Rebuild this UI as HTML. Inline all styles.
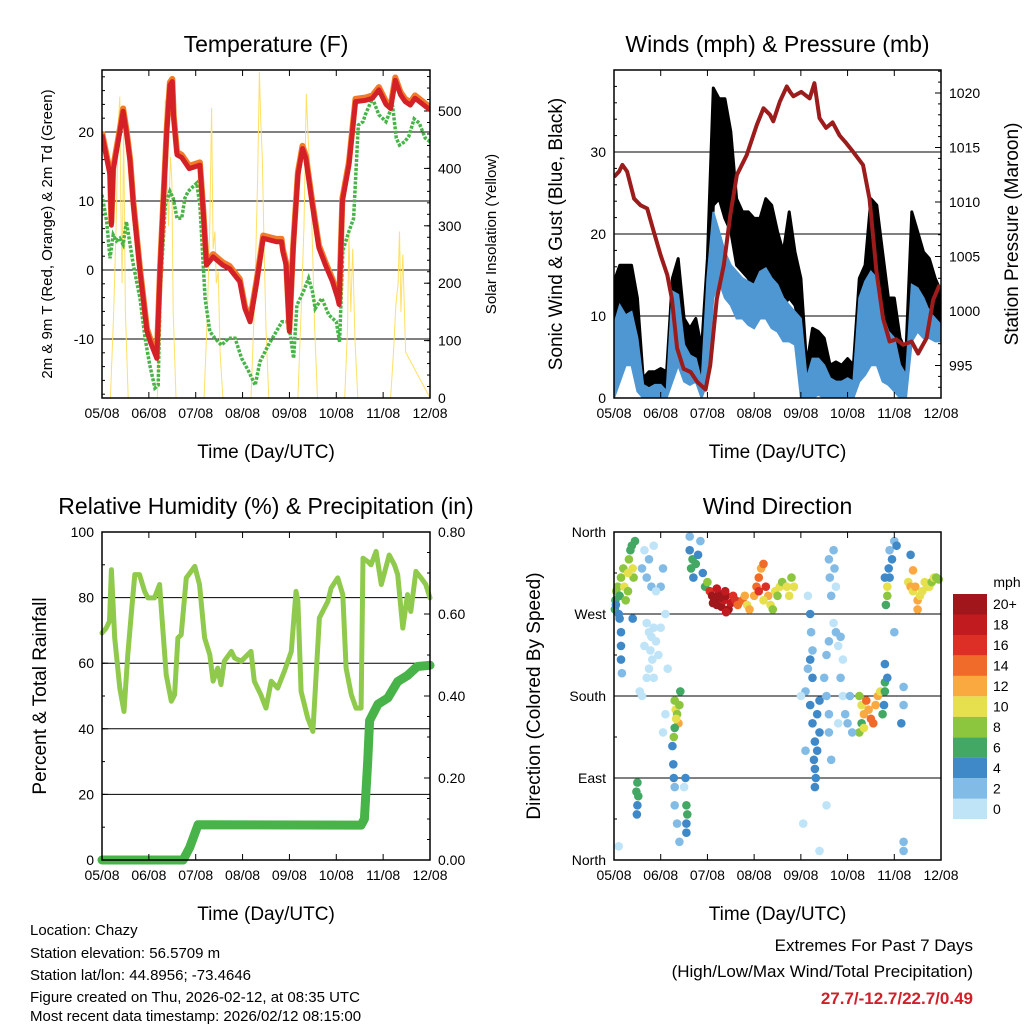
<!DOCTYPE html>
<html><head><meta charset="utf-8"><style>
html,body{margin:0;padding:0;background:#fff}
svg{display:block;font-family:"Liberation Sans",sans-serif}
</style></head><body>
<svg id="s" width="1024" height="1024" viewBox="0 0 1024 1024">
<g id="g1"></g>
<g id="g2"></g>
<g id="g3"></g>
<g id="g4"></g>
<g font-size="15" fill="#000">
<text x="30" y="935">Location: Chazy</text>
<text x="30" y="958">Station elevation: 56.5709 m</text>
<text x="30" y="980">Station lat/lon: 44.8956; -73.4646</text>
<text x="30" y="1002">Figure created on Thu, 2026-02-12, at 08:35 UTC</text>
<text x="30" y="1024" dy="-3">Most recent data timestamp: 2026/02/12 08:15:00</text>
</g>
<g font-size="17" text-anchor="end">
<text x="973" y="951">Extremes For Past 7 Days</text>
<text x="973" y="977">(High/Low/Max Wind/Total Precipitation)</text>
<text x="973" y="1004" fill="#d0202a" font-weight="bold">27.7/-12.7/22.7/0.49</text>
</g>
</svg>
<script>
// ---- Temperature data (day, value) ----
const redDay=[0,0.17,0.2,0.24,0.38,0.45,0.52,0.6,0.67,0.81,0.96,1.03,1.17,1.24,1.38,1.45,1.5,1.53,1.6,1.7,1.86,2.09,2.16,2.23,2.37,2.58,2.72,2.94,3.05,3.16,3.3,3.44,3.72,3.83,3.86,3.93,4.0,4.08,4.18,4.28,4.35,4.49,4.63,4.77,4.92,5.03,5.06,5.13,5.27,5.41,5.63,5.77,5.91,6.06,6.16,6.26,6.37,6.47,6.58,6.68,7.0];
const redVal=[19.6,13.8,6.5,14.5,20,23,20,15.7,9.4,-0.2,-8.9,-10.4,-12.8,0,20,26.8,27.3,22,16.7,16.3,14.7,15.2,8.5,0.7,1.9,0.7,0.2,-1.7,-5.6,-7.5,-1.9,4.6,4.1,4.1,2.6,0.7,-8.9,3.2,13.8,17.6,16.2,9.4,3.2,0.7,-1.7,-4.1,-5,10,15.2,24.4,24.6,24.9,26.1,24,23.4,27.5,25.4,24.4,23.9,24.9,23.2];
const tdDay=[0,0.1,0.17,0.24,0.31,0.38,0.45,0.52,0.67,0.81,0.92,1.02,1.13,1.2,1.24,1.35,1.45,1.52,1.6,1.7,1.77,1.84,2.02,2.09,2.2,2.3,2.41,2.55,2.7,2.84,2.98,3.13,3.27,3.37,3.55,3.84,3.98,4.09,4.16,4.3,4.41,4.49,4.55,4.69,4.84,5.0,5.07,5.14,5.27,5.37,5.47,5.57,5.62,5.77,5.91,6.06,6.2,6.28,6.35,6.46,6.55,6.66,6.77,6.9,7.0];
const tdVal=[10.9,7.0,1.7,5.1,4.2,4.6,3.7,7.0,0.7,-4.1,-9.9,-13.8,-17.1,-16.7,-3.6,9.4,11.4,10.4,7.5,7.5,10.4,11.4,12.6,9.4,-4.1,-8.9,-9.9,-10.9,-9.9,-9.9,-12.8,-14.7,-16.7,-13.3,-10.9,-7.5,-7.5,-12.8,-5.1,-3.1,-1.2,-3.1,-5.6,-4.1,-6.5,-7.5,-10.4,2.8,5.6,7.5,21,21.5,22.5,24.9,22.5,21.5,23.9,19.1,18.1,18.6,19.4,21.9,21.3,19.1,18.6];
const solDay=[0,0.18,0.25,0.3,0.35,0.38,0.4,0.43,0.46,0.5,0.56,1.18,1.25,1.3,1.35,1.38,1.42,1.46,1.49,1.52,1.58,2.18,2.25,2.3,2.34,2.37,2.41,2.44,2.48,2.52,2.58,3.18,3.26,3.32,3.36,3.39,3.42,3.46,3.5,3.56,4.18,4.25,4.31,4.36,4.4,4.44,4.48,4.54,4.6,5.18,5.24,5.27,5.31,5.35,5.4,5.46,6.16,6.22,6.27,6.32,6.35,6.38,6.42,6.48,7.0];
const solVal=[0,0,150,300,480,525,350,200,470,150,0,0,180,350,520,400,300,420,380,150,0,0,150,300,505,260,290,200,220,80,0,0,180,380,568,480,420,260,120,0,0,150,300,530,450,400,300,120,0,0,120,290,150,260,100,0,0,80,160,200,290,150,250,80,0];
// ---- Winds data ----
const windDay=[0,0.125,0.25,0.375,0.5,0.625,0.75,0.875,1,1.125,1.25,1.375,1.5,1.625,1.75,1.875,2,2.125,2.25,2.375,2.5,2.625,2.75,2.875,3,3.125,3.25,3.375,3.5,3.625,3.75,3.875,4,4.125,4.25,4.375,4.5,4.625,4.75,4.875,5,5.125,5.25,5.375,5.5,5.625,5.75,5.875,6,6.125,6.25,6.375,6.5,6.625,6.75,6.875,7];
const gustHi=[14.2,16.2,16.2,16.2,12.2,2.4,3.2,3.2,3.6,3.2,14.6,17,9.7,8.5,9.7,6.1,17,37.8,36.5,36.5,32.5,24.3,22.7,22.7,21.9,21.9,24.3,23.5,20.3,17.8,22.7,17.8,14.6,4,8.5,8.1,7.3,4,4.4,4,4.8,4,14.6,16.2,24.3,23.5,17.8,12.2,12.2,7.3,5.7,22.7,20.3,17.8,17,14.6,13];
const gustLo=[4,5.7,6.1,6.9,4,0.4,0.4,0.4,0.6,0.4,7.3,9.7,4,3.2,4.8,0.8,4,23.5,24.3,21.9,20.3,16.2,15.4,14.6,13,14.2,14.6,13.8,12.2,11.3,12.2,11.3,8.1,0.4,2,2,1.6,0.8,0.8,0.8,0.8,0.8,5.7,7.3,12.2,10.1,6.9,4.8,4,2.4,1.6,12.2,11.3,10.5,11.3,9.7,8.9];
const windHi=[8.9,11.3,10.1,10.5,7.3,1.6,1.2,1.6,1.6,0.8,13,12.6,6.5,5.2,4.8,2,14.6,22.7,20.3,17.8,16.2,15.4,14.6,14.2,13.8,15.4,15.8,14.6,13.8,12.2,11.3,10.5,9.7,2.4,4.8,4.8,4,2.4,2,2,2.4,2,12.2,14.2,15.4,14.6,10.1,8.1,7.3,4,2.8,13.8,13.4,12.2,10.5,9.7,8.9];
const windLo=[0,2,4,4,0.8,0,0,0,0,0,2,4,2,1.6,2,0,2,12.2,14.2,12.2,11.3,9.7,9.7,8.9,8.5,9.7,9.7,8.5,8.1,6.9,6.9,6.5,0,0,0,0.4,0,0,0,0,0,0,2,2.8,4,4,2,1.6,0.8,0,0,6.9,8.1,7.3,7.3,6.9,6.9];
const presDay=[0,0.11,0.18,0.28,0.43,0.57,0.71,0.85,1.0,1.14,1.24,1.35,1.49,1.64,1.78,1.96,2.06,2.2,2.35,2.49,2.63,2.84,3.06,3.2,3.34,3.41,3.55,3.7,3.77,3.84,4.01,4.19,4.29,4.4,4.54,4.68,4.83,4.97,5.12,5.33,5.47,5.62,5.76,5.9,6.04,6.19,6.37,6.51,6.69,6.83,6.97];
const presVal=[1012.3,1012.8,1013.4,1012.8,1010.3,1009.7,1009.4,1007.3,1005.1,1003.3,1001.1,996.6,994.7,994.4,993.5,992.8,995,1001.1,1004.2,1008.8,1012.5,1014.3,1017.1,1018.6,1018,1017.4,1019.2,1020.6,1020.1,1019.7,1020.1,1019.5,1020.9,1017.7,1016.8,1017.3,1016.1,1015.4,1014.6,1013.4,1010.3,1003.6,999.3,997.2,997.4,996.9,997.2,996.1,997.5,1001,1002.4];
// ---- Humidity / precip ----
const rhDay=[0,0.09,0.16,0.2,0.27,0.38,0.47,0.55,0.63,0.7,0.8,0.91,0.98,1.12,1.23,1.27,1.37,1.48,1.55,1.62,1.69,1.8,1.98,2.08,2.19,2.3,2.37,2.47,2.54,2.61,2.76,2.83,2.97,3.18,3.25,3.39,3.5,3.61,3.75,3.89,4.04,4.14,4.18,4.25,4.39,4.5,4.64,4.82,4.89,5.03,5.14,5.21,5.32,5.42,5.53,5.57,5.67,5.74,5.85,5.96,6.13,6.24,6.31,6.42,6.52,6.59,6.7,6.81,6.91,7.0];
const rhVal=[69.2,70.7,72.8,88.5,67.7,52.4,45.3,62.6,75.8,87,87,81.9,79.9,79.9,84,75.8,56.5,48.4,50.4,67.7,68.7,86,89.5,84,67.7,62.6,54.5,58.5,53.5,60.6,63.6,61.6,60.6,63.6,54.5,50.4,46.3,54.5,52.4,57.5,63.6,81.9,78.9,51.4,43.3,39.2,73.8,78.9,82.9,86,80.9,58.5,50.4,46.3,46.3,92,91,90,94.1,84,93,90,87,70.7,80.9,75.8,88,86,84,79.9];
const prDay=[0,1.73,1.87,2.05,5.53,5.6,5.67,5.71,5.89,6.1,6.31,6.52,6.73,7.0];
const prVal=[0,0,0.03,0.086,0.085,0.1,0.24,0.34,0.38,0.395,0.435,0.45,0.472,0.475];
// ---- Wind direction points ----
const dirDay=[0.02,0.03,0.05,0.04,0.08,0.1,0.12,0.15,0.2,0.22,0.25,0.3,0.32,0.35,0.38,0.4,0.42,0.45,0.3,0.12,0.15,0.15,0.15,0.17,0.4,
0.6,0.65,0.7,0.75,0.8,0.85,0.7,0.75,0.8,0.85,0.9,0.78,0.82,0.75,0.7,0.65,0.95,1.0,1.1,1.05,1.0,0.9,0.6,0.85,1.15,1.1,1.05,0.55,
1.3,1.32,1.35,1.38,1.4,1.42,1.3,1.28,1.33,1.25,1.27,1.28,1.3,1.3,1.35,1.4,
0.48,0.5,0.52,0.5,0.49,0.1,1.55,1.57,1.55,1.55,1.53,1.5,
1.62,1.65,1.68,1.7,1.75,1.8,1.85,1.9,1.95,1.62,
2.05,2.1,2.15,2.2,2.25,2.3,2.35,2.4,2.45,2.5,2.55,2.6,2.65,2.2,2.4,2.0,2.12,2.28,2.38,
2.75,2.8,2.85,2.9,3.0,3.05,3.1,3.15,3.2,3.25,3.3,3.35,3.4,3.45,3.5,3.55,3.6,3.7,3.75,3.8,3.85,3.1,3.2,
4.15,4.2,4.22,4.25,4.2,4.15,4.25,4.1,4.2,4.25,4.3,4.28,4.3,4.35,4.32,4.3,4.4,4.35,4.4,4.5,4.55,4.6,4.55,4.6,4.6,4.65,4.6,4.62,4.65,4.7,4.72,4.75,4.7,4.75,4.8,4.85,4.9,4.85,4.9,4.95,4.8,4.1,4.0,4.55,4.05,4.4,
5.25,5.3,5.35,5.4,5.45,5.5,5.55,5.6,5.65,5.7,5.3,5.25,5.35,5.8,5.78,5.75,5.8,5.1,5.0,5.05,
5.82,5.85,5.85,5.9,5.88,5.9,5.95,5.8,6.0,6.05,6.0,5.8,5.85,6.2,6.2,6.15,6.2,6.2,
6.3,6.35,6.4,6.45,6.5,6.55,6.6,6.65,6.7,6.75,6.8,6.85,6.9,6.95,6.4,6.35,6.5];
const dirDeg=[275,285,295,280,300,270,290,310,320,300,285,295,330,340,345,320,310,350,315,265,250,235,220,205,265,
320,340,310,330,300,345,260,250,245,255,240,230,220,210,200,235,225,255,270,320,300,295,180,200,210,160,140,185,
175,165,160,150,170,185,145,135,155,125,105,90,80,60,40,20,
75,85,70,60,50,15,60,50,40,30,90,80,
340,320,330,310,325,335,350,315,300,355,
295,290,285,280,292,278,285,290,275,282,290,285,280,298,272,305,282,288,295,
285,290,280,275,290,300,310,320,325,300,290,280,275,295,290,300,305,300,290,310,300,295,285,
290,270,250,230,220,210,200,185,170,150,130,110,100,120,90,80,140,160,175,200,225,240,180,160,140,110,330,310,290,340,320,300,260,250,235,245,220,200,180,160,150,120,180,60,40,10,
180,170,160,175,165,155,150,170,180,185,150,140,145,185,170,160,195,140,150,180,
280,290,300,310,320,340,330,310,350,345,250,215,200,190,170,150,20,10,
305,300,295,300,285,290,295,305,300,300,305,310,310,308,318,335,275];
const dirSpd=[6,7,8,5,9,4,7,8,9,10,9,8,9,7,6,10,9,6,10,4,4,4,4,2,4,
2,1,2,3,2,1,0,0,1,0,0,0,1,0,0,0,0,0,1,2,2,1,0,0,0,1,0,0,
8,10,9,12,9,6,7,9,10,4,4,4,2,2,2,2,
6,6,6,4,4,0,6,6,4,4,4,0,
4,6,6,4,6,4,2,4,6,2,
16,20,20,20,20,20,18,20,20,18,16,16,14,18,18,8,20,20,19,
14,12,10,12,12,14,14,12,14,16,12,10,8,10,8,10,8,10,10,8,10,16,10,
0,4,2,2,4,2,4,2,4,4,4,4,4,4,4,4,4,4,4,2,2,2,2,2,2,2,2,2,2,2,2,0,0,2,0,2,0,2,0,2,0,2,0,0,0,0,
8,10,12,14,12,14,14,12,12,10,6,8,10,6,4,6,6,2,2,2,
6,8,10,4,4,2,4,4,2,4,2,4,4,2,2,4,2,2,
10,12,10,12,12,10,10,10,10,10,8,10,8,8,12,4,12];
const cbLabels=['0','2','4','6','8','10','12','14','16','18','20+'];
const cbColors=['#bfe4f8','#82bce6','#3f89c8','#44a865','#8cc63f','#e6e04e','#f9a93f','#f06b2a','#dd2f25','#c21b1f','#a0161a'];

const NS='http://www.w3.org/2000/svg';
function mk(parent,tag,attrs,name){const e=document.createElementNS(NS,tag);for(const k in attrs)e.setAttribute(k,attrs[k]);


parent.appendChild(e);return e;}
function txt(parent,x,y,s,size,anchor,name,rot){const t=mk(parent,'text',{x:x,y:y,'font-size':size,'text-anchor':anchor||'middle'},name);
if(rot)t.setAttribute('transform','rotate(-90 '+x+' '+y+')');t.textContent=s;return t;}
function pts(days,vals,fx,fy){return days.map((d,i)=>fx(d).toFixed(1)+','+fy(vals[i]).toFixed(1)).join(' ');}
const xLabels=['05/08','06/08','07/08','08/08','09/08','10/08','11/08','12/08'];

function frame(g,x0,x1,y0,y1,title,xlab){
  mk(g,'rect',{x:x0,y:y0,width:x1-x0,height:y1-y0,fill:'none',stroke:'#000','stroke-width':1.5},'plot-frame');
  txt(g,(x0+x1)/2,y0-18,title,23,'middle','panel-title');
  txt(g,(x0+x1)/2,y1+60,xlab,19,'middle','x-axis-title');
  for(let i=0;i<8;i++){const x=x0+i*(x1-x0)/7;
    mk(g,'line',{x1:x,x2:x,y1:y1,y2:y1-6,stroke:'#000'},'x-tick');
    mk(g,'line',{x1:x,x2:x,y1:y0,y2:y0+6,stroke:'#000'},'x-tick-top');
    txt(g,x,y1+20,xLabels[i],14,'middle','x-tick-label');}
}
function yAxis(g,x0,x1,vals,fy,labels,side,grid,minor){
  vals.forEach((v,i)=>{const y=fy(v);
    if(side==='l'){mk(g,'line',{x1:x0,x2:x0+6,y1:y,y2:y,stroke:'#000'},'y-tick');txt(g,x0-8,y+5,labels[i],14,'end','y-tick-label');}
    else{mk(g,'line',{x1:x1,x2:x1-6,y1:y,y2:y,stroke:'#000'},'y2-tick');txt(g,x1+8,y+5,labels[i],14,'start','y2-tick-label');}
    if(grid)mk(g,'line',{x1:x0,x2:x1,y1:y,y2:y,stroke:'#000','stroke-width':1},'grid-line');
  });
  (minor||[]).forEach(v=>{const y=fy(v);
    if(side==='l')mk(g,'line',{x1:x0,x2:x0+3,y1:y,y2:y,stroke:'#000'},'y-minor-tick');
    else mk(g,'line',{x1:x1,x2:x1-3,y1:y,y2:y,stroke:'#000'},'y2-minor-tick');});
}
function range(a,b,s){const r=[];for(let v=a;v<=b+1e-9;v+=s)r.push(+v.toFixed(3));return r;}

// ===== Panel 1 Temperature =====
(function(){const g=document.getElementById('g1');const X0=102,X1=430,Y0=70,Y1=398;
const fx=d=>X0+d*(X1-X0)/7, fy=t=>270-6.9*t, fs=v=>398-0.574*v;
const cp=mk(g,'clipPath',{id:'c1'},'clip');mk(cp,'rect',{x:X0,y:Y0,width:X1-X0,height:Y1-Y0},'clip-rect');
yAxis(g,X0,X1,[-10,0,10,20],fy,['-10','0','10','20'],'l',true,range(-18,28,2));
yAxis(g,X0,X1,[0,100,200,300,400,500],fs,['0','100','200','300','400','500'],'r',false,range(0,560,20));
const d=mk(g,'g',{'clip-path':'url(#c1)'},'temperature-series');
mk(d,'polyline',{points:pts(solDay,solVal,fx,fs),fill:'none',stroke:'#ffe066','stroke-width':1},'solar-line');
mk(d,'polyline',{points:pts(tdDay,tdVal,fx,fy),fill:'none',stroke:'#46b446','stroke-width':3.5,'stroke-dasharray':'3 1.5'},'dewpoint-line');
mk(d,'polyline',{points:pts(redDay,redVal.map(v=>v+0.4),fx,fy),fill:'none',stroke:'#f27b2a','stroke-width':6,'stroke-linejoin':'round'},'temp-9m-line');
mk(d,'polyline',{points:pts(redDay,redVal,fx,fy),fill:'none',stroke:'#d42027','stroke-width':5,'stroke-linejoin':'round'},'temp-2m-line');
frame(g,X0,X1,Y0,Y1,'Temperature (F)','Time (Day/UTC)');
txt(g,52,234,'2m & 9m T (Red, Orange) & 2m Td (Green)',15,'middle','y-axis-title',true);
txt(g,496,234,'Solar Insolation (Yellow)',15,'middle','y2-axis-title',true);
})();

// ===== Panel 2 Winds =====
(function(){const g=document.getElementById('g2');const X0=614,X1=941,Y0=70,Y1=398;
const fx=d=>X0+d*(X1-X0)/7, fy=v=>398-8.2*v, fp=p=>311-10.9*(p-1000);
const cp=mk(g,'clipPath',{id:'c2'},'clip');mk(cp,'rect',{x:X0,y:Y0,width:X1-X0,height:Y1-Y0},'clip-rect');
yAxis(g,X0,X1,[0,10,20,30],fy,['0','10','20','30'],'l',true,range(0,40,2));
yAxis(g,X0,X1,[995,1000,1005,1010,1015,1020],fp,['995','1000','1005','1010','1015','1020'],'r',false,range(993,1022,1));
const d=mk(g,'g',{'clip-path':'url(#c2)'},'wind-series');
const gp=windDay.map((t,i)=>fx(t).toFixed(1)+','+fy(gustHi[i]).toFixed(1)).concat(windDay.map((t,i)=>fx(t).toFixed(1)+','+fy(gustLo[i]).toFixed(1)).reverse()).join(' ');
mk(d,'polygon',{points:gp,fill:'#000',stroke:'#000','stroke-width':3,'stroke-linejoin':'round'},'gust-band');
const wp=windDay.map((t,i)=>fx(t).toFixed(1)+','+fy(windHi[i]).toFixed(1)).concat(windDay.map((t,i)=>fx(t).toFixed(1)+','+fy(windLo[i]).toFixed(1)).reverse()).join(' ');
mk(d,'polygon',{points:wp,fill:'#4f97d3',stroke:'#4f97d3','stroke-width':2},'wind-band');
mk(d,'polyline',{points:pts(presDay,presVal,fx,fp),fill:'none',stroke:'#9c1c1c','stroke-width':4,'stroke-linejoin':'round'},'pressure-line');
frame(g,X0,X1,Y0,Y1,'Winds (mph) & Pressure (mb)','Time (Day/UTC)');
txt(g,562,234,'Sonic Wind & Gust (Blue, Black)',19,'middle','y-axis-title',true);
txt(g,1018,234,'Station Pressure (Maroon)',19,'middle','y2-axis-title',true);
})();

// ===== Panel 3 Humidity =====
(function(){const g=document.getElementById('g3');const X0=102,X1=430,Y0=532,Y1=860;
const fx=d=>X0+d*(X1-X0)/7, fy=v=>860-3.28*v, fp=p=>860-410*p;
const cp=mk(g,'clipPath',{id:'c3'},'clip');mk(cp,'rect',{x:X0-6,y:Y0,width:X1-X0+12,height:Y1-Y0+6},'clip-rect');
yAxis(g,X0,X1,[0,20,40,60,80,100],fy,['0','20','40','60','80','100'],'l',false,range(0,100,10));
[20,40,60,80].forEach(v=>mk(g,'line',{x1:X0,x2:X1,y1:fy(v),y2:fy(v),stroke:'#000'},'grid-line'));
yAxis(g,X0,X1,[0,0.2,0.4,0.6,0.8],fp,['0.00','0.20','0.40','0.60','0.80'],'r',false,range(0,0.8,0.05));
const d=mk(g,'g',{'clip-path':'url(#c3)'},'humidity-series');
mk(d,'polyline',{points:pts(rhDay,rhVal,fx,fy),fill:'none',stroke:'#8fca4d','stroke-width':5,'stroke-linejoin':'round','stroke-linecap':'round'},'rh-line');
mk(d,'polyline',{points:pts(prDay,prVal,fx,fp),fill:'none',stroke:'#47b348','stroke-width':9,'stroke-linejoin':'round','stroke-linecap':'round'},'precip-line');
frame(g,X0,X1,Y0,Y1,'Relative Humidity (%) & Precipitation (in)','Time (Day/UTC)');
txt(g,46,696,'Percent & Total Rainfall',19,'middle','y-axis-title',true);
})();

// ===== Panel 4 Wind direction =====
(function(){const g=document.getElementById('g4');const X0=614,X1=941,Y0=532,Y1=860;
const fx=d=>X0+d*(X1-X0)/7, fy=v=>860-v*(328/360);
yAxis(g,X0,X1,[0,90,180,270,360],fy,['North','East','South','West','North'],'l',false,range(0,360,45));
[90,180,270].forEach(v=>mk(g,'line',{x1:X0,x2:X1,y1:fy(v),y2:fy(v),stroke:'#000'},'grid-line'));
const d=mk(g,'g',{},'direction-points');
dirDay.forEach((t,i)=>{const b=Math.min(10,Math.floor(dirSpd[i]/2));
  mk(d,'circle',{cx:fx(t).toFixed(1),cy:fy(dirDeg[i]).toFixed(1),r:4.3,fill:cbColors[b]},'direction-point');});
frame(g,X0,X1,Y0,Y1,'Wind Direction','Time (Day/UTC)');
txt(g,540,696,'Direction (Colored By Speed)',19,'middle','y-axis-title',true);
const cb=mk(g,'g',{},'colorbar');
txt(cb,1007,587,'mph',14,'middle','colorbar-title');
const bh=22.5/1.1;
cbColors.forEach((c,i)=>{const y=594+(10-i)*bh;
  mk(cb,'rect',{x:953,y:y.toFixed(1),width:34,height:bh.toFixed(1),fill:c},'colorbar-box');
  txt(cb,993,(y+bh/2+5).toFixed(1),cbLabels[i],14,'start','colorbar-label');});
})();
</script>
</body></html>
